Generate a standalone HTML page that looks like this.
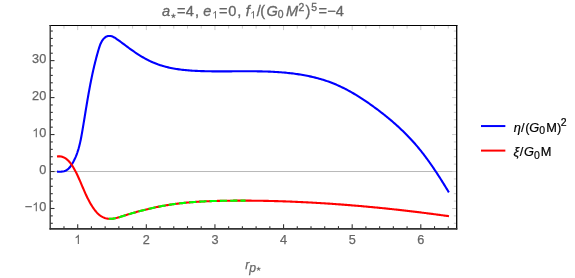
<!DOCTYPE html>
<html><head><meta charset="utf-8"><style>
html,body{margin:0;padding:0;background:#fff;}
svg{display:block;will-change:transform;font-family:"Liberation Sans",sans-serif;}
</style></head><body>
<svg width="575" height="278" viewBox="0 0 575 278">
<rect width="575" height="278" fill="#fff"/>
<line x1="50.2" y1="171.52" x2="456.7" y2="171.52" stroke="#b8b8b8" stroke-width="1"/>
<g><line x1="63.98" y1="228.95" x2="63.98" y2="226.15" stroke="#333" stroke-width="1.1"/><line x1="63.98" y1="25.5" x2="63.98" y2="28.60" stroke="#cdcdcd" stroke-width="1"/><line x1="77.70" y1="228.95" x2="77.70" y2="224.35" stroke="#333" stroke-width="1.1"/><line x1="77.70" y1="25.5" x2="77.70" y2="30.10" stroke="#cdcdcd" stroke-width="1"/><line x1="91.42" y1="228.95" x2="91.42" y2="226.15" stroke="#333" stroke-width="1.1"/><line x1="91.42" y1="25.5" x2="91.42" y2="28.60" stroke="#cdcdcd" stroke-width="1"/><line x1="105.15" y1="228.95" x2="105.15" y2="226.15" stroke="#333" stroke-width="1.1"/><line x1="105.15" y1="25.5" x2="105.15" y2="28.60" stroke="#cdcdcd" stroke-width="1"/><line x1="118.87" y1="228.95" x2="118.87" y2="226.15" stroke="#333" stroke-width="1.1"/><line x1="118.87" y1="25.5" x2="118.87" y2="28.60" stroke="#cdcdcd" stroke-width="1"/><line x1="132.60" y1="228.95" x2="132.60" y2="226.15" stroke="#333" stroke-width="1.1"/><line x1="132.60" y1="25.5" x2="132.60" y2="28.60" stroke="#cdcdcd" stroke-width="1"/><line x1="146.32" y1="228.95" x2="146.32" y2="224.35" stroke="#333" stroke-width="1.1"/><line x1="146.32" y1="25.5" x2="146.32" y2="30.10" stroke="#cdcdcd" stroke-width="1"/><line x1="160.04" y1="228.95" x2="160.04" y2="226.15" stroke="#333" stroke-width="1.1"/><line x1="160.04" y1="25.5" x2="160.04" y2="28.60" stroke="#cdcdcd" stroke-width="1"/><line x1="173.77" y1="228.95" x2="173.77" y2="226.15" stroke="#333" stroke-width="1.1"/><line x1="173.77" y1="25.5" x2="173.77" y2="28.60" stroke="#cdcdcd" stroke-width="1"/><line x1="187.49" y1="228.95" x2="187.49" y2="226.15" stroke="#333" stroke-width="1.1"/><line x1="187.49" y1="25.5" x2="187.49" y2="28.60" stroke="#cdcdcd" stroke-width="1"/><line x1="201.22" y1="228.95" x2="201.22" y2="226.15" stroke="#333" stroke-width="1.1"/><line x1="201.22" y1="25.5" x2="201.22" y2="28.60" stroke="#cdcdcd" stroke-width="1"/><line x1="214.94" y1="228.95" x2="214.94" y2="224.35" stroke="#333" stroke-width="1.1"/><line x1="214.94" y1="25.5" x2="214.94" y2="30.10" stroke="#cdcdcd" stroke-width="1"/><line x1="228.66" y1="228.95" x2="228.66" y2="226.15" stroke="#333" stroke-width="1.1"/><line x1="228.66" y1="25.5" x2="228.66" y2="28.60" stroke="#cdcdcd" stroke-width="1"/><line x1="242.39" y1="228.95" x2="242.39" y2="226.15" stroke="#333" stroke-width="1.1"/><line x1="242.39" y1="25.5" x2="242.39" y2="28.60" stroke="#cdcdcd" stroke-width="1"/><line x1="256.11" y1="228.95" x2="256.11" y2="226.15" stroke="#333" stroke-width="1.1"/><line x1="256.11" y1="25.5" x2="256.11" y2="28.60" stroke="#cdcdcd" stroke-width="1"/><line x1="269.84" y1="228.95" x2="269.84" y2="226.15" stroke="#333" stroke-width="1.1"/><line x1="269.84" y1="25.5" x2="269.84" y2="28.60" stroke="#cdcdcd" stroke-width="1"/><line x1="283.56" y1="228.95" x2="283.56" y2="224.35" stroke="#333" stroke-width="1.1"/><line x1="283.56" y1="25.5" x2="283.56" y2="30.10" stroke="#cdcdcd" stroke-width="1"/><line x1="297.28" y1="228.95" x2="297.28" y2="226.15" stroke="#333" stroke-width="1.1"/><line x1="297.28" y1="25.5" x2="297.28" y2="28.60" stroke="#cdcdcd" stroke-width="1"/><line x1="311.01" y1="228.95" x2="311.01" y2="226.15" stroke="#333" stroke-width="1.1"/><line x1="311.01" y1="25.5" x2="311.01" y2="28.60" stroke="#cdcdcd" stroke-width="1"/><line x1="324.73" y1="228.95" x2="324.73" y2="226.15" stroke="#333" stroke-width="1.1"/><line x1="324.73" y1="25.5" x2="324.73" y2="28.60" stroke="#cdcdcd" stroke-width="1"/><line x1="338.46" y1="228.95" x2="338.46" y2="226.15" stroke="#333" stroke-width="1.1"/><line x1="338.46" y1="25.5" x2="338.46" y2="28.60" stroke="#cdcdcd" stroke-width="1"/><line x1="352.18" y1="228.95" x2="352.18" y2="224.35" stroke="#333" stroke-width="1.1"/><line x1="352.18" y1="25.5" x2="352.18" y2="30.10" stroke="#cdcdcd" stroke-width="1"/><line x1="365.90" y1="228.95" x2="365.90" y2="226.15" stroke="#333" stroke-width="1.1"/><line x1="365.90" y1="25.5" x2="365.90" y2="28.60" stroke="#cdcdcd" stroke-width="1"/><line x1="379.63" y1="228.95" x2="379.63" y2="226.15" stroke="#333" stroke-width="1.1"/><line x1="379.63" y1="25.5" x2="379.63" y2="28.60" stroke="#cdcdcd" stroke-width="1"/><line x1="393.35" y1="228.95" x2="393.35" y2="226.15" stroke="#333" stroke-width="1.1"/><line x1="393.35" y1="25.5" x2="393.35" y2="28.60" stroke="#cdcdcd" stroke-width="1"/><line x1="407.08" y1="228.95" x2="407.08" y2="226.15" stroke="#333" stroke-width="1.1"/><line x1="407.08" y1="25.5" x2="407.08" y2="28.60" stroke="#cdcdcd" stroke-width="1"/><line x1="420.80" y1="228.95" x2="420.80" y2="224.35" stroke="#333" stroke-width="1.1"/><line x1="420.80" y1="25.5" x2="420.80" y2="30.10" stroke="#cdcdcd" stroke-width="1"/><line x1="434.52" y1="228.95" x2="434.52" y2="226.15" stroke="#333" stroke-width="1.1"/><line x1="434.52" y1="25.5" x2="434.52" y2="28.60" stroke="#cdcdcd" stroke-width="1"/><line x1="448.25" y1="228.95" x2="448.25" y2="226.15" stroke="#333" stroke-width="1.1"/><line x1="448.25" y1="25.5" x2="448.25" y2="28.60" stroke="#cdcdcd" stroke-width="1"/><line x1="50.2" y1="223.28" x2="52.80" y2="223.28" stroke="#333" stroke-width="1.1"/><line x1="456.7" y1="223.28" x2="453.80" y2="223.28" stroke="#cdcdcd" stroke-width="1"/><line x1="50.2" y1="215.88" x2="52.80" y2="215.88" stroke="#333" stroke-width="1.1"/><line x1="456.7" y1="215.88" x2="453.80" y2="215.88" stroke="#cdcdcd" stroke-width="1"/><line x1="50.2" y1="208.49" x2="54.50" y2="208.49" stroke="#333" stroke-width="1.1"/><line x1="456.7" y1="208.49" x2="452.10" y2="208.49" stroke="#cdcdcd" stroke-width="1"/><line x1="50.2" y1="201.10" x2="52.80" y2="201.10" stroke="#333" stroke-width="1.1"/><line x1="456.7" y1="201.10" x2="453.80" y2="201.10" stroke="#cdcdcd" stroke-width="1"/><line x1="50.2" y1="193.70" x2="52.80" y2="193.70" stroke="#333" stroke-width="1.1"/><line x1="456.7" y1="193.70" x2="453.80" y2="193.70" stroke="#cdcdcd" stroke-width="1"/><line x1="50.2" y1="186.31" x2="52.80" y2="186.31" stroke="#333" stroke-width="1.1"/><line x1="456.7" y1="186.31" x2="453.80" y2="186.31" stroke="#cdcdcd" stroke-width="1"/><line x1="50.2" y1="178.91" x2="52.80" y2="178.91" stroke="#333" stroke-width="1.1"/><line x1="456.7" y1="178.91" x2="453.80" y2="178.91" stroke="#cdcdcd" stroke-width="1"/><line x1="50.2" y1="171.52" x2="54.50" y2="171.52" stroke="#333" stroke-width="1.1"/><line x1="456.7" y1="171.52" x2="452.10" y2="171.52" stroke="#cdcdcd" stroke-width="1"/><line x1="50.2" y1="164.13" x2="52.80" y2="164.13" stroke="#333" stroke-width="1.1"/><line x1="456.7" y1="164.13" x2="453.80" y2="164.13" stroke="#cdcdcd" stroke-width="1"/><line x1="50.2" y1="156.73" x2="52.80" y2="156.73" stroke="#333" stroke-width="1.1"/><line x1="456.7" y1="156.73" x2="453.80" y2="156.73" stroke="#cdcdcd" stroke-width="1"/><line x1="50.2" y1="149.34" x2="52.80" y2="149.34" stroke="#333" stroke-width="1.1"/><line x1="456.7" y1="149.34" x2="453.80" y2="149.34" stroke="#cdcdcd" stroke-width="1"/><line x1="50.2" y1="141.94" x2="52.80" y2="141.94" stroke="#333" stroke-width="1.1"/><line x1="456.7" y1="141.94" x2="453.80" y2="141.94" stroke="#cdcdcd" stroke-width="1"/><line x1="50.2" y1="134.55" x2="54.50" y2="134.55" stroke="#333" stroke-width="1.1"/><line x1="456.7" y1="134.55" x2="452.10" y2="134.55" stroke="#cdcdcd" stroke-width="1"/><line x1="50.2" y1="127.16" x2="52.80" y2="127.16" stroke="#333" stroke-width="1.1"/><line x1="456.7" y1="127.16" x2="453.80" y2="127.16" stroke="#cdcdcd" stroke-width="1"/><line x1="50.2" y1="119.76" x2="52.80" y2="119.76" stroke="#333" stroke-width="1.1"/><line x1="456.7" y1="119.76" x2="453.80" y2="119.76" stroke="#cdcdcd" stroke-width="1"/><line x1="50.2" y1="112.37" x2="52.80" y2="112.37" stroke="#333" stroke-width="1.1"/><line x1="456.7" y1="112.37" x2="453.80" y2="112.37" stroke="#cdcdcd" stroke-width="1"/><line x1="50.2" y1="104.97" x2="52.80" y2="104.97" stroke="#333" stroke-width="1.1"/><line x1="456.7" y1="104.97" x2="453.80" y2="104.97" stroke="#cdcdcd" stroke-width="1"/><line x1="50.2" y1="97.58" x2="54.50" y2="97.58" stroke="#333" stroke-width="1.1"/><line x1="456.7" y1="97.58" x2="452.10" y2="97.58" stroke="#cdcdcd" stroke-width="1"/><line x1="50.2" y1="90.19" x2="52.80" y2="90.19" stroke="#333" stroke-width="1.1"/><line x1="456.7" y1="90.19" x2="453.80" y2="90.19" stroke="#cdcdcd" stroke-width="1"/><line x1="50.2" y1="82.79" x2="52.80" y2="82.79" stroke="#333" stroke-width="1.1"/><line x1="456.7" y1="82.79" x2="453.80" y2="82.79" stroke="#cdcdcd" stroke-width="1"/><line x1="50.2" y1="75.40" x2="52.80" y2="75.40" stroke="#333" stroke-width="1.1"/><line x1="456.7" y1="75.40" x2="453.80" y2="75.40" stroke="#cdcdcd" stroke-width="1"/><line x1="50.2" y1="68.00" x2="52.80" y2="68.00" stroke="#333" stroke-width="1.1"/><line x1="456.7" y1="68.00" x2="453.80" y2="68.00" stroke="#cdcdcd" stroke-width="1"/><line x1="50.2" y1="60.61" x2="54.50" y2="60.61" stroke="#333" stroke-width="1.1"/><line x1="456.7" y1="60.61" x2="452.10" y2="60.61" stroke="#cdcdcd" stroke-width="1"/><line x1="50.2" y1="53.22" x2="52.80" y2="53.22" stroke="#333" stroke-width="1.1"/><line x1="456.7" y1="53.22" x2="453.80" y2="53.22" stroke="#cdcdcd" stroke-width="1"/><line x1="50.2" y1="45.82" x2="52.80" y2="45.82" stroke="#333" stroke-width="1.1"/><line x1="456.7" y1="45.82" x2="453.80" y2="45.82" stroke="#cdcdcd" stroke-width="1"/><line x1="50.2" y1="38.43" x2="52.80" y2="38.43" stroke="#333" stroke-width="1.1"/><line x1="456.7" y1="38.43" x2="453.80" y2="38.43" stroke="#cdcdcd" stroke-width="1"/><line x1="50.2" y1="31.03" x2="52.80" y2="31.03" stroke="#333" stroke-width="1.1"/><line x1="456.7" y1="31.03" x2="453.80" y2="31.03" stroke="#cdcdcd" stroke-width="1"/></g>
<path d="M57.05,171.65 L58.42,171.68 L59.84,171.69 L61.28,171.64 L62.71,171.50 L64.09,171.23 L65.39,170.81 L66.59,170.22 L67.68,169.46 L68.67,168.57 L69.58,167.56 L70.43,166.48 L71.21,165.34 L71.96,164.17 L72.66,162.98 L73.34,161.78 L73.98,160.57 L74.59,159.34 L75.16,158.10 L75.71,156.84 L76.23,155.57 L76.72,154.30 L77.19,153.01 L77.63,151.71 L78.05,150.40 L78.45,149.08 L78.82,147.75 L79.18,146.42 L79.52,145.08 L79.85,143.73 L80.16,142.38 L80.45,141.02 L80.74,139.66 L81.01,138.29 L81.27,136.93 L81.53,135.56 L81.78,134.18 L82.02,132.81 L82.26,131.43 L82.49,130.06 L82.72,128.69 L82.95,127.31 L83.18,125.94 L83.41,124.57 L83.64,123.20 L83.86,121.83 L84.09,120.47 L84.31,119.10 L84.54,117.73 L84.76,116.37 L84.98,115.00 L85.21,113.64 L85.43,112.28 L85.65,110.91 L85.88,109.55 L86.10,108.19 L86.33,106.83 L86.55,105.47 L86.78,104.11 L87.01,102.76 L87.24,101.40 L87.47,100.04 L87.70,98.69 L87.94,97.33 L88.17,95.98 L88.41,94.63 L88.65,93.27 L88.89,91.92 L89.14,90.57 L89.39,89.22 L89.64,87.87 L89.89,86.52 L90.15,85.17 L90.41,83.82 L90.67,82.48 L90.94,81.13 L91.21,79.78 L91.48,78.44 L91.76,77.09 L92.04,75.75 L92.33,74.40 L92.62,73.06 L92.91,71.72 L93.21,70.38 L93.52,69.03 L93.83,67.69 L94.14,66.35 L94.46,65.01 L94.79,63.67 L95.12,62.33 L95.46,60.99 L95.80,59.66 L96.15,58.32 L96.50,56.98 L96.86,55.64 L97.23,54.31 L97.61,52.97 L97.99,51.64 L98.37,50.30 L98.77,48.97 L99.18,47.63 L99.61,46.31 L100.08,44.99 L100.60,43.70 L101.20,42.43 L101.87,41.19 L102.65,39.99 L103.53,38.87 L104.50,37.87 L105.56,37.05 L106.71,36.44 L107.93,36.08 L109.20,35.94 L110.50,36.02 L111.79,36.33 L113.07,36.83 L114.31,37.48 L115.52,38.23 L116.70,39.01 L117.86,39.81 L118.99,40.61 L120.10,41.42 L121.20,42.24 L122.29,43.06 L123.38,43.88 L124.48,44.70 L125.57,45.52 L126.68,46.35 L127.79,47.17 L128.90,47.98 L130.03,48.80 L131.15,49.61 L132.29,50.41 L133.43,51.21 L134.57,52.00 L135.73,52.78 L136.89,53.55 L138.05,54.31 L139.23,55.06 L140.41,55.79 L141.59,56.52 L142.79,57.23 L143.99,57.92 L145.20,58.60 L146.41,59.26 L147.63,59.90 L148.86,60.53 L150.10,61.13 L151.35,61.72 L152.60,62.28 L153.86,62.81 L155.13,63.33 L156.40,63.82 L157.68,64.30 L158.97,64.75 L160.27,65.18 L161.57,65.59 L162.88,65.98 L164.19,66.36 L165.51,66.71 L166.84,67.05 L168.17,67.37 L169.50,67.67 L170.84,67.95 L172.19,68.22 L173.54,68.48 L174.89,68.72 L176.25,68.94 L177.61,69.15 L178.97,69.35 L180.34,69.53 L181.71,69.71 L183.08,69.87 L184.46,70.01 L185.84,70.15 L187.22,70.28 L188.60,70.40 L189.98,70.50 L191.37,70.60 L192.75,70.69 L194.14,70.77 L195.53,70.85 L196.92,70.92 L198.30,70.98 L199.69,71.03 L201.08,71.08 L202.47,71.13 L203.85,71.17 L205.24,71.21 L206.63,71.24 L208.01,71.27 L209.40,71.29 L210.78,71.31 L212.16,71.33 L213.55,71.34 L214.93,71.35 L216.31,71.36 L217.69,71.37 L219.07,71.37 L220.45,71.37 L221.83,71.37 L223.21,71.37 L224.59,71.37 L225.97,71.36 L227.35,71.36 L228.72,71.35 L230.10,71.34 L231.48,71.33 L232.86,71.32 L234.23,71.31 L235.61,71.30 L236.99,71.30 L238.36,71.29 L239.74,71.28 L241.11,71.27 L242.49,71.27 L243.86,71.26 L245.24,71.26 L246.61,71.26 L247.99,71.26 L249.36,71.26 L250.74,71.26 L252.11,71.27 L253.49,71.28 L254.86,71.29 L256.24,71.31 L257.61,71.33 L258.98,71.35 L260.36,71.37 L261.73,71.40 L263.11,71.44 L264.48,71.47 L265.86,71.52 L267.23,71.56 L268.61,71.61 L269.98,71.67 L271.36,71.73 L272.73,71.80 L274.11,71.87 L275.48,71.95 L276.86,72.03 L278.24,72.12 L279.61,72.22 L280.99,72.32 L282.37,72.43 L283.74,72.55 L285.12,72.67 L286.50,72.81 L287.88,72.94 L289.26,73.09 L290.63,73.25 L292.01,73.41 L293.39,73.58 L294.77,73.76 L296.14,73.95 L297.52,74.15 L298.89,74.35 L300.26,74.57 L301.63,74.79 L303.00,75.03 L304.37,75.27 L305.74,75.53 L307.10,75.79 L308.46,76.07 L309.81,76.35 L311.17,76.65 L312.52,76.96 L313.87,77.28 L315.21,77.61 L316.55,77.95 L317.89,78.30 L319.22,78.67 L320.55,79.04 L321.87,79.43 L323.19,79.83 L324.51,80.25 L325.82,80.68 L327.12,81.12 L328.42,81.57 L329.71,82.04 L331.00,82.52 L332.28,83.01 L333.56,83.52 L334.83,84.04 L336.09,84.58 L337.35,85.12 L338.60,85.68 L339.85,86.26 L341.09,86.84 L342.33,87.44 L343.56,88.04 L344.78,88.66 L346.00,89.29 L347.22,89.93 L348.43,90.58 L349.64,91.24 L350.84,91.91 L352.03,92.59 L353.23,93.28 L354.41,93.98 L355.60,94.68 L356.77,95.40 L357.95,96.12 L359.12,96.86 L360.28,97.60 L361.44,98.34 L362.60,99.10 L363.76,99.86 L364.90,100.63 L366.05,101.40 L367.19,102.18 L368.33,102.97 L369.47,103.76 L370.60,104.56 L371.72,105.36 L372.85,106.17 L373.97,106.98 L375.09,107.80 L376.20,108.62 L377.31,109.45 L378.42,110.28 L379.52,111.11 L380.62,111.96 L381.72,112.80 L382.81,113.65 L383.89,114.51 L384.98,115.37 L386.06,116.24 L387.13,117.11 L388.20,117.99 L389.26,118.87 L390.32,119.76 L391.38,120.65 L392.43,121.55 L393.47,122.45 L394.51,123.36 L395.55,124.28 L396.58,125.20 L397.60,126.13 L398.62,127.06 L399.63,128.00 L400.64,128.94 L401.64,129.89 L402.63,130.84 L403.62,131.80 L404.60,132.77 L405.58,133.74 L406.55,134.72 L407.52,135.71 L408.47,136.70 L409.42,137.69 L410.37,138.70 L411.31,139.71 L412.24,140.72 L413.16,141.74 L414.08,142.77 L414.99,143.80 L415.89,144.84 L416.78,145.89 L417.67,146.94 L418.55,148.00 L419.43,149.07 L420.29,150.14 L421.15,151.21 L422.01,152.29 L422.86,153.38 L423.70,154.47 L424.54,155.57 L425.37,156.67 L426.19,157.78 L427.01,158.89 L427.82,160.00 L428.63,161.12 L429.43,162.24 L430.23,163.37 L431.02,164.50 L431.81,165.64 L432.60,166.77 L433.38,167.91 L434.15,169.06 L434.92,170.21 L435.69,171.36 L436.45,172.51 L437.20,173.67 L437.96,174.82 L438.71,175.99 L439.46,177.15 L440.20,178.31 L440.94,179.48 L441.68,180.65 L442.41,181.82 L443.14,182.99 L443.87,184.16 L444.59,185.34 L445.32,186.51 L446.04,187.69 L446.76,188.87 L447.47,190.04 L448.19,191.22 L448.90,192.40" fill="none" stroke="#0000ff" stroke-width="2.1" stroke-linejoin="round"/>
<path d="M57.00,156.45 L58.16,156.33 L59.28,156.32 L60.36,156.41 L61.39,156.59 L62.39,156.87 L63.34,157.23 L64.26,157.66 L65.15,158.16 L66.00,158.73 L66.82,159.35 L67.60,160.02 L68.36,160.75 L69.09,161.51 L69.79,162.31 L70.47,163.15 L71.12,164.03 L71.75,164.92 L72.36,165.84 L72.95,166.78 L73.52,167.74 L74.07,168.70 L74.61,169.68 L75.13,170.65 L75.64,171.63 L76.14,172.60 L76.62,173.58 L77.10,174.56 L77.56,175.53 L78.02,176.51 L78.47,177.49 L78.91,178.47 L79.35,179.45 L79.77,180.43 L80.20,181.40 L80.62,182.38 L81.04,183.36 L81.45,184.34 L81.86,185.31 L82.28,186.29 L82.69,187.26 L83.11,188.24 L83.52,189.21 L83.94,190.19 L84.36,191.16 L84.79,192.13 L85.22,193.10 L85.66,194.07 L86.10,195.03 L86.56,196.00 L87.02,196.96 L87.49,197.92 L87.97,198.88 L88.46,199.84 L88.96,200.80 L89.48,201.75 L90.01,202.70 L90.55,203.65 L91.11,204.60 L91.69,205.54 L92.28,206.49 L92.89,207.42 L93.52,208.34 L94.17,209.25 L94.84,210.15 L95.53,211.01 L96.24,211.86 L96.97,212.67 L97.73,213.44 L98.51,214.18 L99.31,214.88 L100.15,215.52 L101.00,216.12 L101.89,216.67 L102.80,217.15 L103.75,217.57 L104.71,217.93 L105.70,218.23 L106.70,218.47 L107.71,218.65 L108.74,218.76 L109.77,218.82 L110.80,218.81 L111.83,218.76 L112.87,218.65 L113.91,218.50 L114.95,218.31 L116.00,218.09 L117.04,217.84 L118.09,217.56 L119.14,217.26 L120.19,216.94 L121.24,216.62 L122.29,216.28 L123.34,215.94 L124.39,215.61 L125.44,215.27 L126.49,214.94 L127.54,214.62 L128.59,214.29 L129.64,213.98 L130.68,213.66 L131.73,213.35 L132.78,213.04 L133.82,212.74 L134.87,212.44 L135.92,212.15 L136.96,211.85 L138.01,211.57 L139.05,211.28 L140.10,211.00 L141.14,210.73 L142.19,210.45 L143.23,210.19 L144.28,209.92 L145.32,209.66 L146.37,209.41 L147.41,209.15 L148.46,208.90 L149.50,208.66 L150.55,208.42 L151.60,208.18 L152.64,207.95 L153.69,207.72 L154.73,207.50 L155.78,207.28 L156.83,207.06 L157.88,206.85 L158.92,206.64 L159.97,206.43 L161.02,206.23 L162.07,206.04 L163.12,205.84 L164.17,205.66 L165.22,205.47 L166.28,205.29 L167.33,205.12 L168.38,204.94 L169.44,204.78 L170.49,204.61 L171.55,204.45 L172.60,204.30 L173.66,204.15 L174.72,204.00 L175.78,203.86 L176.84,203.72 L177.90,203.59 L178.96,203.46 L180.02,203.33 L181.09,203.21 L182.15,203.09 L183.21,202.97 L184.28,202.86 L185.35,202.75 L186.41,202.65 L187.48,202.55 L188.55,202.45 L189.62,202.36 L190.69,202.27 L191.76,202.18 L192.83,202.10 L193.90,202.02 L194.97,201.94 L196.05,201.87 L197.12,201.80 L198.19,201.73 L199.27,201.66 L200.34,201.60 L201.42,201.54 L202.49,201.48 L203.57,201.43 L204.64,201.37 L205.72,201.32 L206.80,201.28 L207.87,201.23 L208.95,201.19 L210.03,201.15 L211.11,201.11 L212.18,201.07 L213.26,201.04 L214.34,201.00 L215.42,200.97 L216.50,200.94 L217.57,200.92 L218.65,200.89 L219.73,200.87 L220.81,200.84 L221.89,200.82 L222.97,200.80 L224.04,200.78 L225.12,200.77 L226.20,200.75 L227.28,200.74 L228.36,200.72 L229.43,200.71 L230.51,200.70 L231.59,200.69 L232.66,200.68 L233.74,200.67 L234.82,200.66 L235.90,200.65 L236.97,200.65 L238.05,200.64 L239.12,200.64 L240.20,200.64 L241.28,200.64 L242.35,200.64 L243.43,200.64 L244.50,200.64 L245.58,200.64 L246.65,200.65 L247.73,200.65 L248.80,200.66 L249.88,200.66 L250.95,200.67 L252.03,200.68 L253.10,200.69 L254.18,200.70 L255.25,200.71 L256.33,200.72 L257.40,200.74 L258.47,200.75 L259.55,200.77 L260.62,200.78 L261.70,200.80 L262.77,200.82 L263.84,200.84 L264.92,200.86 L265.99,200.88 L267.06,200.90 L268.14,200.92 L269.21,200.95 L270.28,200.97 L271.36,201.00 L272.43,201.03 L273.50,201.05 L274.58,201.08 L275.65,201.11 L276.72,201.14 L277.80,201.17 L278.87,201.21 L279.94,201.24 L281.01,201.27 L282.09,201.31 L283.16,201.34 L284.23,201.38 L285.31,201.42 L286.38,201.45 L287.45,201.49 L288.52,201.53 L289.60,201.57 L290.67,201.62 L291.74,201.66 L292.81,201.70 L293.89,201.75 L294.96,201.79 L296.03,201.84 L297.10,201.88 L298.18,201.93 L299.25,201.98 L300.32,202.03 L301.40,202.08 L302.47,202.13 L303.54,202.18 L304.61,202.24 L305.69,202.29 L306.76,202.34 L307.83,202.40 L308.90,202.45 L309.98,202.51 L311.05,202.57 L312.12,202.63 L313.20,202.69 L314.27,202.75 L315.34,202.81 L316.41,202.87 L317.49,202.93 L318.56,202.99 L319.63,203.06 L320.70,203.12 L321.78,203.19 L322.85,203.25 L323.92,203.32 L324.99,203.39 L326.07,203.46 L327.14,203.53 L328.21,203.60 L329.28,203.67 L330.36,203.74 L331.43,203.81 L332.50,203.89 L333.57,203.96 L334.65,204.04 L335.72,204.11 L336.79,204.19 L337.86,204.27 L338.94,204.34 L340.01,204.42 L341.08,204.50 L342.15,204.58 L343.22,204.66 L344.30,204.75 L345.37,204.83 L346.44,204.91 L347.51,205.00 L348.58,205.08 L349.65,205.17 L350.73,205.25 L351.80,205.34 L352.87,205.43 L353.94,205.52 L355.01,205.61 L356.08,205.70 L357.16,205.79 L358.23,205.88 L359.30,205.97 L360.37,206.06 L361.44,206.16 L362.51,206.25 L363.58,206.35 L364.65,206.44 L365.73,206.54 L366.80,206.64 L367.87,206.74 L368.94,206.84 L370.01,206.94 L371.08,207.04 L372.15,207.14 L373.22,207.24 L374.29,207.34 L375.36,207.44 L376.43,207.55 L377.50,207.65 L378.57,207.76 L379.64,207.87 L380.71,207.97 L381.78,208.08 L382.85,208.19 L383.92,208.30 L384.99,208.41 L386.06,208.52 L387.13,208.63 L388.20,208.74 L389.27,208.85 L390.34,208.97 L391.41,209.08 L392.48,209.19 L393.55,209.31 L394.62,209.42 L395.69,209.54 L396.75,209.66 L397.82,209.78 L398.89,209.89 L399.96,210.01 L401.03,210.13 L402.10,210.25 L403.17,210.38 L404.23,210.50 L405.30,210.62 L406.37,210.74 L407.44,210.87 L408.51,210.99 L409.57,211.12 L410.64,211.24 L411.71,211.37 L412.78,211.50 L413.84,211.62 L414.91,211.75 L415.98,211.88 L417.05,212.01 L418.11,212.14 L419.18,212.27 L420.25,212.41 L421.31,212.54 L422.38,212.67 L423.44,212.80 L424.51,212.94 L425.58,213.07 L426.64,213.21 L427.71,213.35 L428.77,213.48 L429.84,213.62 L430.91,213.76 L431.97,213.90 L433.04,214.04 L434.10,214.18 L435.17,214.32 L436.23,214.46 L437.30,214.60 L438.36,214.74 L439.43,214.89 L440.49,215.03 L441.55,215.17 L442.62,215.32 L443.68,215.46 L444.75,215.61 L445.81,215.76 L446.87,215.90 L447.94,216.05 L449.00,216.20" fill="none" stroke="#ff0000" stroke-width="2.1" stroke-linejoin="round"/>
<path d="M108.74,218.76 L109.77,218.82 L110.80,218.81 L111.83,218.76 L112.87,218.65 L113.91,218.50 L114.95,218.31 L116.00,218.09 L117.04,217.84 L118.09,217.56 L119.14,217.26 L120.19,216.94 L121.24,216.62 L122.29,216.28 L123.34,215.94 L124.39,215.61 L125.44,215.27 L126.49,214.94 L127.54,214.62 L128.59,214.29 L129.64,213.98 L130.68,213.66 L131.73,213.35 L132.78,213.04 L133.82,212.74 L134.87,212.44 L135.92,212.15 L136.96,211.85 L138.01,211.57 L139.05,211.28 L140.10,211.00 L141.14,210.73 L142.19,210.45 L143.23,210.19 L144.28,209.92 L145.32,209.66 L146.37,209.41 L147.41,209.15 L148.46,208.90 L149.50,208.66 L150.55,208.42 L151.60,208.18 L152.64,207.95 L153.69,207.72 L154.73,207.50 L155.78,207.28 L156.83,207.06 L157.88,206.85 L158.92,206.64 L159.97,206.43 L161.02,206.23 L162.07,206.04 L163.12,205.84 L164.17,205.66 L165.22,205.47 L166.28,205.29 L167.33,205.12 L168.38,204.94 L169.44,204.78 L170.49,204.61 L171.55,204.45 L172.60,204.30 L173.66,204.15 L174.72,204.00 L175.78,203.86 L176.84,203.72 L177.90,203.59 L178.96,203.46 L180.02,203.33 L181.09,203.21 L182.15,203.09 L183.21,202.97 L184.28,202.86 L185.35,202.75 L186.41,202.65 L187.48,202.55 L188.55,202.45 L189.62,202.36 L190.69,202.27 L191.76,202.18 L192.83,202.10 L193.90,202.02 L194.97,201.94 L196.05,201.87 L197.12,201.80 L198.19,201.73 L199.27,201.66 L200.34,201.60 L201.42,201.54 L202.49,201.48 L203.57,201.43 L204.64,201.37 L205.72,201.32 L206.80,201.28 L207.87,201.23 L208.95,201.19 L210.03,201.15 L211.11,201.11 L212.18,201.07 L213.26,201.04 L214.34,201.00 L215.42,200.97 L216.50,200.94 L217.57,200.92 L218.65,200.89 L219.73,200.87 L220.81,200.84 L221.89,200.82 L222.97,200.80 L224.04,200.78 L225.12,200.77 L226.20,200.75 L227.28,200.74 L228.36,200.72 L229.43,200.71 L230.51,200.70 L231.59,200.69 L232.66,200.68 L233.74,200.67 L234.82,200.66 L235.90,200.65 L236.97,200.65 L238.05,200.64 L239.12,200.64 L240.20,200.64 L241.28,200.64 L242.35,200.64 L243.43,200.64 L244.50,200.64 L245.58,200.64" fill="none" stroke="#00ff00" stroke-width="2.1" stroke-dasharray="7.2 3.08" stroke-linejoin="round"/>
<line x1="49.5" y1="25.5" x2="457.4" y2="25.5" stroke="#000" stroke-width="1"/>
<line x1="456.7" y1="25" x2="456.7" y2="229.5" stroke="#000" stroke-width="1.3"/>
<line x1="50.2" y1="25" x2="50.2" y2="229.5" stroke="#333" stroke-width="1.35"/>
<line x1="49.5" y1="228.95" x2="457.3" y2="228.95" stroke="#333" stroke-width="1.7"/>
<g fill="#666" stroke="#666" stroke-width="0.25"><path d="M763 0H583V1147Q518 1085 412.5 1023T223 930V1104Q374 1175 487 1276T647 1472H763Z" transform="translate(74.17,244.00) scale(0.00620,-0.00620)" stroke="none"/><text x="142.79" y="244.00" font-size="12.7">2</text><text x="211.41" y="244.00" font-size="12.7">3</text><text x="280.03" y="244.00" font-size="12.7">4</text><text x="348.65" y="244.00" font-size="12.7">5</text><text x="417.27" y="244.00" font-size="12.7">6</text><text x="39.18" y="63.41" font-size="12.7">0</text><text x="32.12" y="63.41" font-size="12.7">3</text><text x="39.18" y="100.38" font-size="12.7">0</text><text x="32.12" y="100.38" font-size="12.7">2</text><text x="39.18" y="137.35" font-size="12.7">0</text><path d="M763 0H583V1147Q518 1085 412.5 1023T223 930V1104Q374 1175 487 1276T647 1472H763Z" transform="translate(32.12,137.35) scale(0.00620,-0.00620)" stroke="none"/><text x="39.18" y="174.32" font-size="12.7">0</text><text x="39.18" y="211.29" font-size="12.7">0</text><path d="M763 0H583V1147Q518 1085 412.5 1023T223 930V1104Q374 1175 487 1276T647 1472H763Z" transform="translate(32.12,211.29) scale(0.00620,-0.00620)" stroke="none"/><text x="24.71" y="211.29" font-size="12.7">−</text></g>
<g fill="#666" stroke="#666" stroke-width="0.32"><text x="161.93" y="16.10" font-size="14.6" font-style="italic">a</text><text x="176.94" y="16.10" font-size="14.6">=</text><text x="185.74" y="16.10" font-size="14.6">4</text><text x="194.97" y="16.10" font-size="14.6">,</text><text x="203.17" y="16.10" font-size="14.6" font-style="italic">e</text><path d="M763 0H583V1147Q518 1085 412.5 1023T223 930V1104Q374 1175 487 1276T647 1472H763Z" transform="translate(212.10,18.40) scale(0.00508,-0.00508)" stroke="none"/><text x="219.09" y="16.10" font-size="14.6">=</text><text x="228.34" y="16.10" font-size="14.6">0</text><text x="237.32" y="16.10" font-size="14.6">,</text><text x="245.74" y="16.10" font-size="14.6" font-style="italic">f</text><path d="M763 0H583V1147Q518 1085 412.5 1023T223 930V1104Q374 1175 487 1276T647 1472H763Z" transform="translate(250.05,18.40) scale(0.00508,-0.00508)" stroke="none"/><text x="256.72" y="16.10" font-size="14.6">/</text><text x="260.16" y="16.10" font-size="14.6">(</text><text x="266.48" y="16.10" font-size="14.6" font-style="italic">G</text><text x="277.71" y="18.40" font-size="10.4">0</text><text x="285.89" y="16.10" font-size="14.6" font-style="italic">M</text><text x="298.61" y="11.20" font-size="10.4">2</text><text x="305.38" y="16.10" font-size="14.6">)</text><text x="311.22" y="11.20" font-size="10.4">5</text><text x="318.39" y="16.10" font-size="14.6">=</text><text x="327.18" y="16.10" font-size="14.6">−</text><text x="335.69" y="16.10" font-size="14.6">4</text><polygon points="173.40,13.50 173.93,15.27 175.78,15.23 174.26,16.28 174.87,18.02 173.40,16.90 171.93,18.02 172.54,16.28 171.02,15.23 172.87,15.27" fill="#666" stroke="#666" stroke-width="0.35" stroke-linejoin="round"/></g>
<g fill="#666" stroke="#666" stroke-width="0.25"><text x="245.30" y="268.85" font-size="12.0" font-style="italic">r</text><text x="249.31" y="271.50" font-size="12.2" font-style="italic">p</text><polygon points="258.60,266.80 259.05,268.32 260.64,268.29 259.34,269.19 259.86,270.69 258.60,269.72 257.34,270.69 257.86,269.19 256.56,268.29 258.15,268.32" fill="#666" stroke="#666" stroke-width="0.3" stroke-linejoin="round"/></g>
<line x1="481" y1="126.05" x2="505.35" y2="126.05" stroke="#0000ff" stroke-width="2"/>
<line x1="481" y1="150.6" x2="505.35" y2="150.6" stroke="#ff0000" stroke-width="2"/>
<g fill="#000" stroke="#000" stroke-width="0.2"><text x="513.77" y="131.50" font-size="12.8" font-style="italic">η</text><text x="521.07" y="131.50" font-size="12.8">/</text><text x="525.21" y="131.50" font-size="12.8">(</text><text x="529.13" y="131.50" font-size="12.8" font-style="italic">G</text><text x="539.28" y="134.20" font-size="10.5">0</text><text x="546.22" y="131.50" font-size="12.8">M</text><text x="557.08" y="131.50" font-size="12.8">)</text><text x="560.83" y="125.80" font-size="10.5">2</text><text x="513.38" y="156.00" font-size="12.8" font-style="italic">ξ</text><text x="519.72" y="156.00" font-size="12.8">/</text><text x="523.88" y="156.00" font-size="12.8" font-style="italic">G</text><text x="533.88" y="158.70" font-size="10.5">0</text><text x="540.82" y="156.00" font-size="12.8">M</text></g>
</svg>
</body></html>
